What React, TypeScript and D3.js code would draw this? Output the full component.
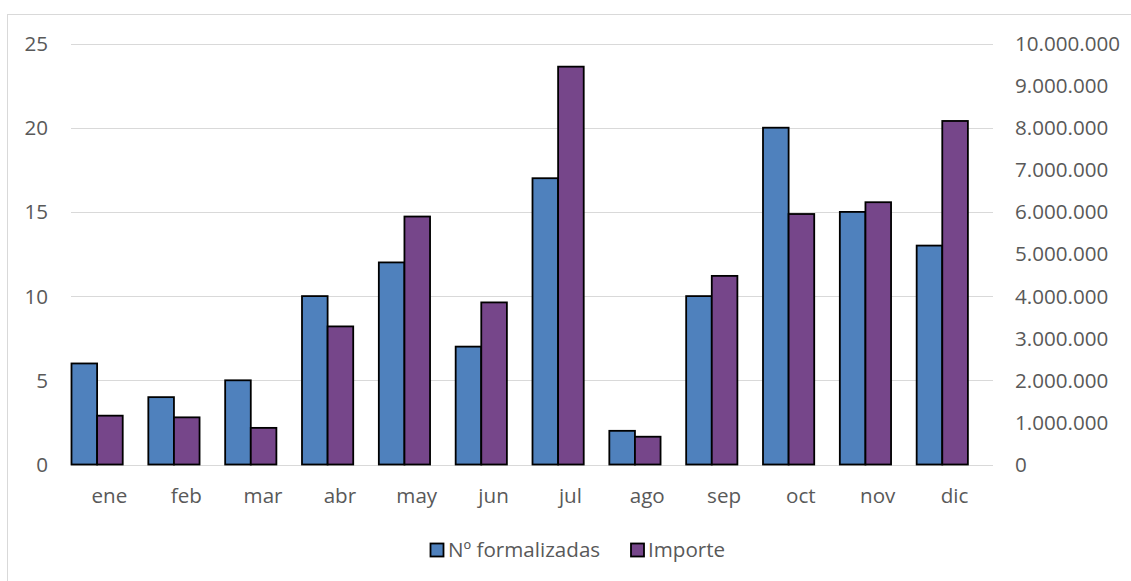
import React from "react";
import * as d3 from "d3";

const categories = ["ene", "feb", "mar", "abr", "may", "jun", "jul", "ago", "sep", "oct", "nov", "dic"];
const formalizadas = [6, 4, 5, 10, 12, 7, 17, 2, 10, 20, 15, 13];
const importe = [1160000, 1120000, 870000, 3280000, 5890000, 3850000, 9450000, 660000, 4480000, 5950000, 6230000, 8160000];
const leftTicks = [0, 5, 10, 15, 20, 25];
const rightTicks = [0, 1000000, 2000000, 3000000, 4000000, 5000000, 6000000, 7000000, 8000000, 9000000, 10000000];
const seriesNames = ["Nº formalizadas", "Importe"];

const W = 1131;
const H = 581;
const FONT = "'Open Sans', 'Noto Sans', sans-serif";
const FS = 20.6;
const BLUE = "#4F81BD";
const PURPLE = "#76468A";
const TXT = "#595959";

const fmt = (v: number) => d3.format(",")(v).replace(/,/g, ".");

export default function App() {
  const x0 = 71, x1 = 993, yTop = 43.5, yBot = 464.5;
  const x = d3.scaleBand<string>().domain(categories).range([x0, x1]).paddingInner(0).paddingOuter(0);
  const yL = d3.scaleLinear().domain([0, 25]).range([yBot, yTop]);
  const yR = d3.scaleLinear().domain([0, 10000000]).range([yBot, yTop]);
  const bw = x.bandwidth() / 3;

  return (
    <svg width={W} height={H} style={{ position: "absolute", left: 0, top: 0, background: "#fff" }} fontFamily={FONT}>
      <rect x={7.5} y={14.5} width={W + 10} height={H + 10} fill="#fff" stroke="#D9D9D9" strokeWidth={1} />
      {leftTicks.map((t) => (
        <line key={"g" + t} x1={x0} x2={x1} y1={Math.round(yL(t)) + 0.5} y2={Math.round(yL(t)) + 0.5} stroke="#D9D9D9" strokeWidth={1.2} />
      ))}
      {leftTicks.map((t) => (
        <text key={"l" + t} x={48} y={yL(t)} dy="0.36em" textAnchor="end" fontSize={FS} fill={TXT}>{t}</text>
      ))}
      {rightTicks.map((t) => (
        <text key={"r" + t} x={1015} y={yR(t)} dy="0.36em" textAnchor="start" fontSize={FS} fill={TXT}>{fmt(t)}</text>
      ))}
      {categories.map((c, i) => {
        const bx = x(c)!;
        return (
          <g key={c}>
            <rect x={bx + 0.5} y={yL(formalizadas[i])} width={bw} height={yBot - yL(formalizadas[i])} fill={BLUE} stroke="#000" strokeWidth={1.8} />
            <rect x={bx + 0.5 + bw} y={yR(importe[i])} width={bw} height={yBot - yR(importe[i])} fill={PURPLE} stroke="#000" strokeWidth={1.8} />
            <text x={bx + x.bandwidth() / 2} y={496} dy="0.36em" textAnchor="middle" fontSize={FS} fill={TXT}>{c}</text>
          </g>
        );
      })}
      <g>
        <rect x={430.5} y={543.5} width={13} height={13} fill={BLUE} stroke="#000" strokeWidth={1.8} />
        <text x={448} y={550} dy="0.36em" fontSize={FS} fill={TXT}>{seriesNames[0]}</text>
        <rect x={631} y={543.5} width={13} height={13} fill={PURPLE} stroke="#000" strokeWidth={1.8} />
        <text x={648} y={550} dy="0.36em" fontSize={FS} fill={TXT}>{seriesNames[1]}</text>
      </g>
    </svg>
  );
}
